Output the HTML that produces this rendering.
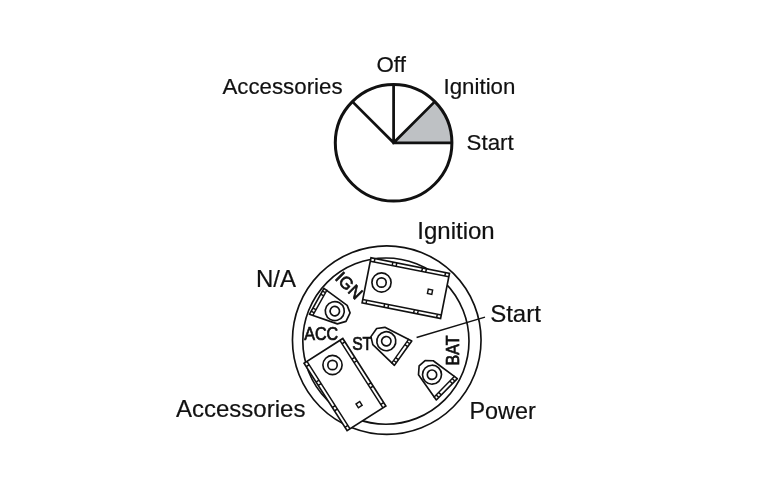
<!DOCTYPE html>
<html><head><meta charset="utf-8">
<style>
html,body{margin:0;padding:0;background:#fff;width:760px;height:500px;overflow:hidden}
svg{display:block;will-change:transform}
text{font-family:"Liberation Sans",sans-serif;fill:#111}
</style></head>
<body>
<svg width="760" height="500" viewBox="0 0 760 500" xmlns="http://www.w3.org/2000/svg">
<g opacity="0.999">
<!-- pie -->
<circle cx="393.6" cy="142.8" r="58.3" fill="#fff"/>
<path d="M393.6 142.8L434.8 101.6A58.3 58.3 0 0 1 451.9 142.8Z" fill="#bec1c4"/>
<circle cx="393.6" cy="142.8" r="58.3" fill="none" stroke="#111" stroke-width="3"/>
<path d="M393.6 84.5V142.8H451.9M352.4 101.6L393.6 142.8L434.8 101.6" fill="none" stroke="#111" stroke-width="2.75" stroke-linejoin="miter"/>

<text transform="translate(222.4 93.8) scale(1 1.02)" font-size="22.3" stroke="#111" stroke-width="0.2">Accessories</text>
<text transform="translate(376.5 72.0) scale(1 1.02)" font-size="22.3" stroke="#111" stroke-width="0.2">Off</text>
<text transform="translate(443.5 93.7) scale(1 1.02)" font-size="22.3" stroke="#111" stroke-width="0.2">Ignition</text>
<text transform="translate(466.6 149.8) scale(1 1.02)" font-size="22.3" stroke="#111" stroke-width="0.2">Start</text>

<!-- switch -->
<circle cx="386.75" cy="340.1" r="94.3" fill="none" stroke="#111" stroke-width="1.65"/>
<circle cx="385.9" cy="341.1" r="83.1" fill="none" stroke="#111" stroke-width="1.65"/>

<g transform="translate(371 257.8) rotate(11.16)">
    <rect x="0" y="0" width="80" height="46" fill="#fff" stroke="#111" stroke-width="1.65"/>
    <path d="M0 3.5H80M0 42.5H80M4 0V3.5M22.3 0V3.5M26.3 0V3.5M52.5 0V3.5M56.5 0V3.5M76 0V3.5M4 42.5V46M22.3 42.5V46M26.3 42.5V46M52.5 42.5V46M56.5 42.5V46M76 42.5V46" fill="none" stroke="#111" stroke-width="1.5"/>
    <rect x="62.3" y="19.7" width="4.4" height="4.4" fill="none" stroke="#111" stroke-width="1.45"/>
</g>
<circle cx="381.5" cy="282.5" r="9.6" fill="none" stroke="#111" stroke-width="1.65"/><circle cx="381.5" cy="282.5" r="4.7" fill="none" stroke="#111" stroke-width="1.65"/>
<g transform="translate(342.8 338.5) rotate(57.43)">
    <rect x="0" y="0" width="80" height="46" fill="#fff" stroke="#111" stroke-width="1.65"/>
    <path d="M0 3.5H80M0 42.5H80M4 0V3.5M22.3 0V3.5M26.3 0V3.5M52.5 0V3.5M56.5 0V3.5M76 0V3.5M4 42.5V46M22.3 42.5V46M26.3 42.5V46M52.5 42.5V46M56.5 42.5V46M76 42.5V46" fill="none" stroke="#111" stroke-width="1.5"/>
    <rect x="62.3" y="19.7" width="4.4" height="4.4" fill="none" stroke="#111" stroke-width="1.45"/>
</g>
<circle cx="332.5" cy="365" r="9.6" fill="none" stroke="#111" stroke-width="1.65"/><circle cx="332.5" cy="365" r="4.7" fill="none" stroke="#111" stroke-width="1.65"/>

<g transform="translate(334.8 311.1) rotate(29.2)"><polygon points="-20.6,-14.6 8,-11 14.2,-5.9 14.8,3.5 8.5,9.9 -20.6,15.2" fill="#fff" stroke="#111" stroke-width="1.65" stroke-linejoin="round"/><path d="M-17.1 -15V15M-20.6 -11.5H-17.1M-20.6 -8H-17.1M-20.6 8H-17.1M-20.6 11.5H-17.1" fill="none" stroke="#111" stroke-width="1.45"/>
    <circle cx="0" cy="0" r="9.5" fill="none" stroke="#111" stroke-width="1.65"/>
    <circle cx="0" cy="0" r="4.7" fill="none" stroke="#111" stroke-width="1.65"/></g>
<g transform="translate(386.3 341.2) rotate(-144.6)"><polygon points="-20.6,-15 9,-10.6 15.2,-5.2 15.2,4.8 9.2,10.5 -20.6,15" fill="#fff" stroke="#111" stroke-width="1.65" stroke-linejoin="round"/><path d="M-17.1 -15V15M-20.6 -11.5H-17.1M-20.6 -8H-17.1M-20.6 8H-17.1M-20.6 11.5H-17.1" fill="none" stroke="#111" stroke-width="1.45"/>
    <circle cx="0" cy="0" r="9.5" fill="none" stroke="#111" stroke-width="1.65"/>
    <circle cx="0" cy="0" r="4.7" fill="none" stroke="#111" stroke-width="1.65"/></g>
<g transform="translate(432 374.7) rotate(-135.5)"><polygon points="-20.8,-15 9.6,-9.5 15.3,-2.8 14.8,5.2 8.9,10.8 -20.8,15" fill="#fff" stroke="#111" stroke-width="1.65" stroke-linejoin="round"/><path d="M-17.1 -15V15M-20.6 -11.5H-17.1M-20.6 -8H-17.1M-20.6 8H-17.1M-20.6 11.5H-17.1" fill="none" stroke="#111" stroke-width="1.45"/>
    <circle cx="0" cy="0" r="9.5" fill="none" stroke="#111" stroke-width="1.65"/>
    <circle cx="0" cy="0" r="4.7" fill="none" stroke="#111" stroke-width="1.65"/></g>

<path d="M416.6 337.5L485 317.1" stroke="#111" stroke-width="1.5"/>

<g stroke="#111" stroke-width="0.7">
<text x="348.8" y="285.8" font-size="17" text-anchor="middle" dominant-baseline="central" transform="rotate(45 348.8 285.8)">IGN</text>
<text x="304.2" y="340.4" font-size="17.5" textLength="34" lengthAdjust="spacingAndGlyphs">ACC</text>
<text x="352.2" y="349.6" font-size="17.5" textLength="20" lengthAdjust="spacingAndGlyphs">ST</text>
<text x="453.4" y="350.4" font-size="17.5" text-anchor="middle" dominant-baseline="central" textLength="30" lengthAdjust="spacingAndGlyphs" transform="rotate(-90 453.4 350.4)">BAT</text>
</g>
<g stroke="#111" stroke-width="0.2">
<text x="417.3" y="238.9" font-size="24">Ignition</text>
<text x="256" y="286.8" font-size="24">N/A</text>
<text x="490.2" y="321.9" font-size="24">Start</text>
<text x="176" y="416.8" font-size="24">Accessories</text>
<text x="469.5" y="418.7" font-size="23.4">Power</text>
</g>
</g>
</svg>
</body></html>
